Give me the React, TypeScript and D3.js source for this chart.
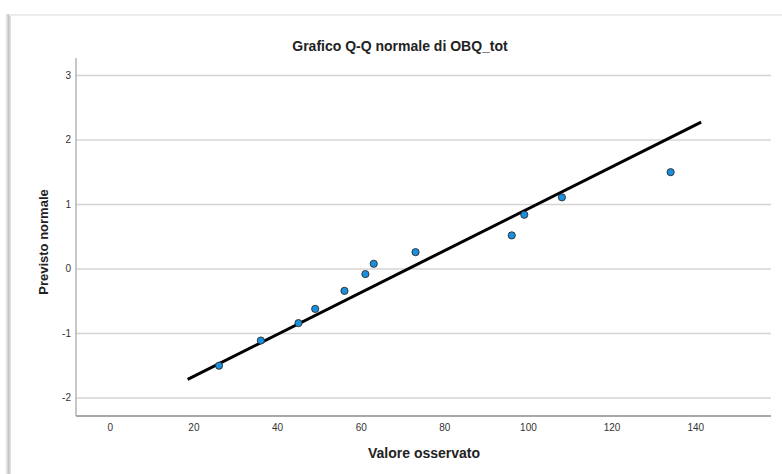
import React from "react";
import * as d3 from "d3";

const observed = [26, 36, 45, 49, 56, 61, 63, 73, 96, 99, 108, 134];
const expectedNormal = [-1.5, -1.11, -0.84, -0.62, -0.34, -0.08, 0.08, 0.26, 0.52, 0.84, 1.11, 1.5];
const xTicks = [0, 20, 40, 60, 80, 100, 120, 140];
const yTicks = [-2, -1, 0, 1, 2, 3];
const lineMean = 71.2;
const lineSd = 30.8;
const lineXRange = [18.5, 141.3];
const title = "Grafico Q-Q normale di OBQ_tot";
const xLabel = "Valore osservato";
const yLabel = "Previsto normale";

export default function App() {
  const W = 782, H = 474;
  const left = 76, right = 771, top = 58, bottom = 416;
  const x = d3.scaleLinear().domain([-8.2, 158]).range([left, right]);
  const y = d3.scaleLinear().domain([-2.28, 3.27]).range([bottom, top]);
  const lineGen = d3.line<number>().x((d) => x(d)).y((d) => y((d - lineMean) / lineSd));
  const font = "'Liberation Sans', Arial, sans-serif";
  return (
    <svg width={W} height={H} style={{ position: "absolute", left: 0, top: 0, background: "#fff" }} fontFamily={font}>
      <defs>
        <linearGradient id="shadowL" x1="0" x2="1" y1="0" y2="0">
          <stop offset="0" stopColor="#ffffff" />
          <stop offset="0.6" stopColor="#c4c4c4" />
          <stop offset="1" stopColor="#e6e6e6" />
        </linearGradient>
      </defs>
      <rect x={5} y={14} width={6} height={H - 14} fill="url(#shadowL)" />
      <rect x={9} y={14} width={W - 9} height={2} fill="#ececec" />
      {yTicks.map((t) => (
        <g key={"y" + t}>
          <line x1={left} x2={right} y1={y(t)} y2={y(t)} stroke="#d4d4d4" strokeWidth={1.5} />
          <text x={71} y={y(t)} dy="0.35em" textAnchor="end" fontSize={10} fill="#333">{t}</text>
        </g>
      ))}
      <line x1={left} x2={left} y1={top} y2={bottom} stroke="#b4b4b4" strokeWidth={1.5} />
      <line x1={left} x2={right} y1={bottom} y2={bottom} stroke="#a8a8a8" strokeWidth={2} />
      {xTicks.map((t) => (
        <text key={"x" + t} x={x(t)} y={427} dy="0.35em" textAnchor="middle" fontSize={10} fill="#333">{t}</text>
      ))}
      <path d={lineGen(lineXRange) || ""} stroke="#000" strokeWidth={3} fill="none" />
      {observed.map((v, i) => (
        <circle key={i} cx={x(v)} cy={y(expectedNormal[i])} r={3.6} fill="#1a8fe0" stroke="#2a2a2a" strokeWidth={0.9} />
      ))}
      <text x={400} y={46} dy="0.35em" textAnchor="middle" fontSize={14} fontWeight="bold" fill="#222">{title}</text>
      <text x={424} y={453} dy="0.35em" textAnchor="middle" fontSize={14} fontWeight="bold" fill="#222">{xLabel}</text>
      <text transform={`translate(43,242) rotate(-90)`} dy="0.35em" textAnchor="middle" fontSize={13} fontWeight="bold" fill="#222">{yLabel}</text>
    </svg>
  );
}
